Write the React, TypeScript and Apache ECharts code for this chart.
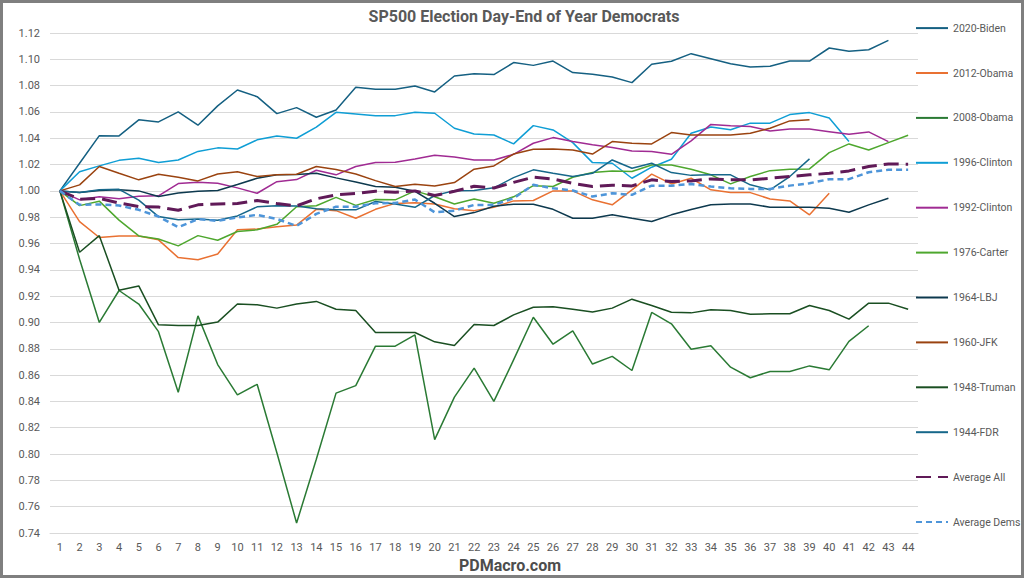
import { useEffect, useRef } from 'react'
import * as echarts from 'echarts'

// trading days after election day
const DAYS = [
  '1', '2', '3', '4', '5', '6', '7', '8', '9', '10', '11', '12', '13', '14', '15',
  '16', '17', '18', '19', '20', '21', '22', '23', '24', '25', '26', '27', '28', '29',
  '30', '31', '32', '33', '34', '35', '36', '37', '38', '39', '40', '41', '42', '43', '44',
]

const BIDEN_2020 = [
  1.0, 1.021, 1.042, 1.0418, 1.054, 1.0524, 1.06, 1.0499, 1.0646, 1.0767,
  1.0716, 1.0587, 1.0633, 1.056, 1.0615, 1.0787, 1.0772, 1.0772, 1.0797, 1.0752,
  1.0873, 1.0891, 1.0884, 1.0975, 1.0954, 1.0987, 1.0899, 1.0886, 1.0866, 1.0823,
  1.0962, 1.0985, 1.1043, 1.1005, 1.0967, 1.0942, 1.0947, 1.0987, 1.0987, 1.1086,
  1.1061, 1.1073, 1.1144,
]
const OBAMA_2012 = [
  1.0, 0.9767, 0.9646, 0.9658, 0.9658, 0.9628, 0.9493, 0.9476, 0.952, 0.9704,
  0.971, 0.9728, 0.974, 0.986, 0.985, 0.9792, 0.986, 0.9905, 0.991, 0.99,
  0.9865, 0.985, 0.9876, 0.9924, 0.9927, 1.0, 1.0, 0.9932, 0.9894, 1.0008,
  1.0127, 1.0053, 1.0096, 1.0008, 0.9987, 0.9987, 0.9939, 0.9924, 0.9818, 0.9982,
]
const OBAMA_2008 = [
  1.0, 0.948, 0.9, 0.9243, 0.914, 0.893, 0.847, 0.905, 0.868, 0.845,
  0.853, 0.801, 0.7476, 0.796, 0.8463, 0.852, 0.882, 0.882, 0.8906, 0.811,
  0.8433, 0.8653, 0.84, 0.8716, 0.904, 0.8835, 0.8937, 0.8684, 0.8742, 0.8635,
  0.9076, 0.899, 0.8797, 0.8823, 0.866, 0.858, 0.8628, 0.8628, 0.867, 0.864,
  0.8856, 0.8975,
]
const CLINTON_1996 = [
  1.0, 1.0145, 1.019, 1.0232, 1.0248, 1.0215, 1.0235, 1.03, 1.0327, 1.0318,
  1.0388, 1.0418, 1.04, 1.0484, 1.0597, 1.0585, 1.0572, 1.0572, 1.0597, 1.059,
  1.0476, 1.0433, 1.0425, 1.0357, 1.0496, 1.0463, 1.0367, 1.0215, 1.021, 1.0096,
  1.018, 1.024, 1.0438, 1.0485, 1.0465, 1.0515, 1.0515, 1.058, 1.0595, 1.0554,
  1.0375,
]
const CLINTON_1992 = [
  1.0, 0.9932, 0.9955, 0.994, 0.996, 0.9963, 1.0056, 1.0066, 1.0058, 1.0023,
  0.9982, 1.007, 1.0086, 1.0157, 1.0122, 1.0185, 1.0215, 1.0218, 1.0242, 1.0271,
  1.0257, 1.0235, 1.0235, 1.0278, 1.0362, 1.0405, 1.0375, 1.035, 1.033, 1.0304,
  1.03, 1.0278, 1.038, 1.0505, 1.0496, 1.0489, 1.0456, 1.047, 1.047, 1.045,
  1.043, 1.0448, 1.0375,
]
const CARTER_1976 = [
  1.0, 0.9888, 0.9922, 0.9778, 0.9658, 0.9634, 0.9582, 0.966, 0.9625, 0.9691,
  0.9704, 0.9746, 0.988, 0.9887, 0.9951, 0.989, 0.9934, 0.9932, 1.0, 0.9955,
  0.9901, 0.9939, 0.9906, 0.9955, 1.004, 1.0033, 1.0104, 1.0139, 1.0152, 1.0147,
  1.0197, 1.0197, 1.0165, 1.0122, 1.0053, 1.0109, 1.0154, 1.0165, 1.0167, 1.0291,
  1.0357, 1.0311, 1.0367, 1.0423,
]
const LBJ_1964 = [
  1.0, 0.9987, 1.0003, 1.0008, 1.0, 0.9957, 0.9984, 0.9997, 1.0003, 1.0048,
  1.0096, 1.0122, 1.0124, 1.0134, 1.0099, 1.0068, 1.0033, 1.0028, 0.9997, 0.9906,
  0.9805, 0.9835, 0.9883, 0.9899, 0.9899, 0.986, 0.9792, 0.9792, 0.9818, 0.9792,
  0.9767, 0.9818, 0.9858, 0.9894, 0.9901, 0.9901, 0.9876, 0.9876, 0.9876, 0.9868,
  0.9838, 0.9894, 0.9944,
]
const JFK_1960 = [
  1.0, 1.0046, 1.0185, 1.0134, 1.0084, 1.0127, 1.0103, 1.0076, 1.0128, 1.0146,
  1.0109, 1.0123, 1.0127, 1.0185, 1.0163, 1.0129, 1.0078, 1.0033, 1.005, 1.0038,
  1.0063, 1.0165, 1.019, 1.028, 1.0316, 1.0319, 1.0311, 1.028, 1.0375, 1.0362,
  1.0357, 1.0443, 1.0425, 1.0425, 1.0425, 1.0438, 1.0476, 1.0532, 1.0541,
]
const TRUMAN_1948 = [
  1.0, 0.9534, 0.966, 0.9245, 0.9278, 0.8982, 0.8977, 0.8977, 0.9003, 0.914,
  0.9134, 0.9109, 0.914, 0.916, 0.91, 0.9091, 0.8924, 0.8924, 0.8924, 0.8853,
  0.8825, 0.8985, 0.8977, 0.9058, 0.9116, 0.9119, 0.91, 0.908, 0.9109, 0.9177,
  0.9129, 0.9078, 0.9073, 0.9096, 0.9091, 0.9063, 0.9066, 0.9066, 0.9129, 0.9091,
  0.9025, 0.9147, 0.9147, 0.91,
]
const FDR_1944 = [
  1.0, 0.9987, 1.0008, 1.0012, 0.993, 0.9805, 0.978, 0.9786, 0.9777, 0.981,
  0.9879, 0.9888, 0.9885, 0.9865, 0.9856, 0.9856, 0.9919, 0.99, 0.9875, 0.9965,
  1.0002, 1.0003, 1.0023, 1.0101, 1.016, 1.0134, 1.0109, 1.0134, 1.0235, 1.0172,
  1.021, 1.0139, 1.0118, 1.0122, 1.0122, 1.0046, 1.0008, 1.0109, 1.0243,
]
const AVERAGE_ALL = [
  1.0, 0.9937, 0.9943, 0.9908, 0.988, 0.9877, 0.9853, 0.9894, 0.9901, 0.9904,
  0.9927, 0.9904, 0.9886, 0.994, 0.997, 0.998, 0.9997, 0.999, 1.0, 0.9965,
  0.9997, 1.0035, 1.0022, 1.0065, 1.0104, 1.009, 1.0058, 1.0033, 1.0043, 1.0038,
  1.0084, 1.0071, 1.0076, 1.0091, 1.0084, 1.0084, 1.0096, 1.0109, 1.0122, 1.0134,
  1.0152, 1.0185, 1.0205, 1.0203,
]
const AVERAGE_DEMS = [
  1.0, 0.9894, 0.9897, 0.9889, 0.9856, 0.9805, 0.9724, 0.9786, 0.9772, 0.9798,
  0.9818, 0.9787, 0.9734, 0.9825, 0.988, 0.988, 0.9906, 0.9908, 0.9934, 0.9837,
  0.985, 0.9893, 0.9894, 0.9944, 1.0046, 1.002, 1.0003, 0.9957, 0.9982, 0.997,
  1.004, 1.004, 1.0052, 1.0033, 1.002, 1.0015, 1.0015, 1.004, 1.0058, 1.0089,
  1.0089, 1.0142, 1.016, 1.016,
]

const SERIES = [
  { name: '2020-Biden', data: BIDEN_2020, color: '#156082' },
  { name: '2012-Obama', data: OBAMA_2012, color: '#E97132' },
  { name: '2008-Obama', data: OBAMA_2008, color: '#2A7A34' },
  { name: '1996-Clinton', data: CLINTON_1996, color: '#0F9ED5' },
  { name: '1992-Clinton', data: CLINTON_1992, color: '#A02B93' },
  { name: '1976-Carter', data: CARTER_1976, color: '#4EA72E' },
  { name: '1964-LBJ', data: LBJ_1964, color: '#0D394E' },
  { name: '1960-JFK', data: JFK_1960, color: '#9A4310' },
  { name: '1948-Truman', data: TRUMAN_1948, color: '#1A4F22' },
  { name: '1944-FDR', data: FDR_1944, color: '#16678A' },
  { name: 'Average All', data: AVERAGE_ALL, color: '#601A58', width: 3, dash: [15, 7] },
  { name: 'Average Dems', data: AVERAGE_DEMS, color: '#4E95D9', width: 2.5, dash: [6, 4] },
]

const FONT = 'Roboto, "Noto Sans", sans-serif'
const LABEL_COLOR = '#595959'

export default function App() {
  const chartRef = useRef<HTMLDivElement>(null)

  useEffect(() => {
    if (!chartRef.current) return
    const chart = echarts.init(chartRef.current, undefined, { renderer: 'svg' })

    const option: echarts.EChartsOption = {
      animation: false,
      backgroundColor: '#ffffff',
      textStyle: { fontFamily: FONT },
      grid: { left: 50, right: 106, top: 33, bottom: 45, containLabel: false },
      legend: {
        orient: 'vertical',
        left: 915,
        top: 22.5,
        padding: 0,
        itemWidth: 32,
        itemHeight: 14,
        itemGap: 33.7,
        itemStyle: { opacity: 0 },
        textStyle: { fontSize: 10.5, color: LABEL_COLOR, fontFamily: FONT },
        data: SERIES.map((s) => s.name),
      },
      xAxis: {
        type: 'category',
        data: DAYS,
        boundaryGap: true,
        axisTick: { show: false },
        axisLine: { show: true, lineStyle: { color: '#D9D9D9', width: 1 } },
        axisLabel: { interval: 0, fontSize: 11, color: LABEL_COLOR, margin: 9 },
        splitLine: { show: false },
      },
      yAxis: {
        type: 'value',
        min: 0.74,
        max: 1.12,
        interval: 0.02,
        axisLine: { show: false },
        axisTick: { show: false },
        axisLabel: {
          fontSize: 11,
          color: LABEL_COLOR,
          margin: 10,
          formatter: (v: number) => v.toFixed(2),
        },
        splitLine: { lineStyle: { color: '#D9D9D9', width: 1 } },
      },
      series: SERIES.map((s) => ({
        name: s.name,
        type: 'line',
        data: s.data,
        symbol: 'none',
        showSymbol: false,
        color: s.color,
        lineStyle: { color: s.color, width: s.width ?? 1.5, type: s.dash ?? 'solid' },
        itemStyle: { color: s.color },
        emphasis: { disabled: true },
      })),
      graphic: [
        {
          type: 'text',
          x: 524,
          y: 16,
          silent: true,
          style: {
            text: 'SP500 Election Day-End of Year Democrats',
            fill: LABEL_COLOR,
            font: `bold 16px ${FONT}`,
            align: 'center',
            verticalAlign: 'middle',
            textAlign: 'center',
            textVerticalAlign: 'middle',
          } as any,
        },
        {
          type: 'text',
          x: 510,
          y: 565,
          silent: true,
          style: {
            text: 'PDMacro.com',
            fill: '#4D4D4D',
            font: `bold 16px ${FONT}`,
            align: 'center',
            verticalAlign: 'middle',
            textAlign: 'center',
            textVerticalAlign: 'middle',
          } as any,
        },
        {
          type: 'rect',
          silent: true,
          z: 100,
          shape: { x: 1.5, y: 1.5, width: 1021, height: 575 },
          style: { fill: 'none', stroke: '#7F7F7F', lineWidth: 3 },
        },
      ],
    }

    chart.setOption(option)
    return () => chart.dispose()
  }, [])

  return (
    <div
      ref={chartRef}
      style={{ position: 'fixed', left: 0, top: 0, width: 1024, height: 578, background: '#fff' }}
    />
  )
}
